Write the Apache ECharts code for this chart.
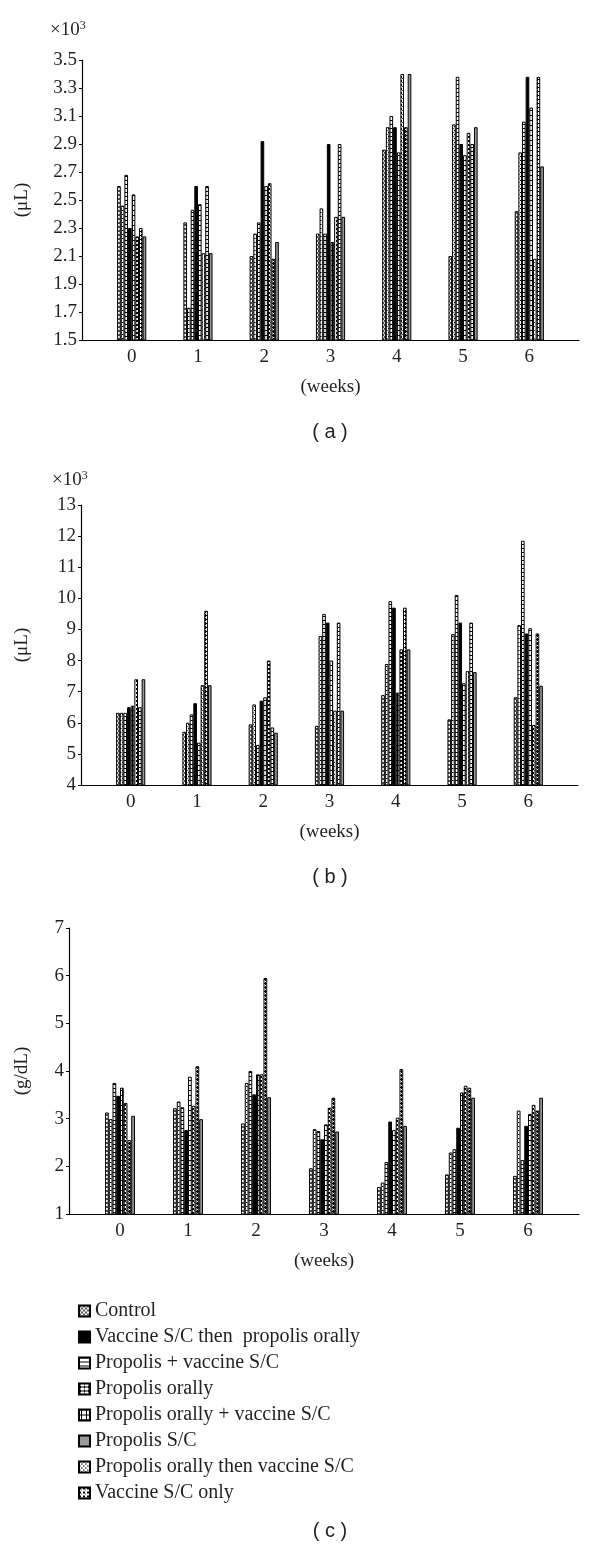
<!DOCTYPE html>
<html>
<head>
<meta charset="utf-8">
<script src="https://cdn.jsdelivr.net/npm/echarts@6/dist/echarts.min.js"></script>
<style>
  html, body { margin: 0; padding: 0; background: #fff; }
  #main { width: 600px; height: 1554px; }
</style>
</head>
<body>
<div id="main"></div>
<script>
// weeks shown on every x axis
var weeks = ['0', '1', '2', '3', '4', '5', '6']

// series in the order the bars stand inside each week
var names = [
  'Control',
  'Propolis orally then vaccine S/C',
  'Propolis + vaccine S/C',
  'Vaccine S/C then  propolis orally',
  'Propolis orally + vaccine S/C',
  'Vaccine S/C only',
  'Propolis orally',
  'Propolis S/C'
]
// legend order as printed under the charts
var legendOrder = [
  'Control',
  'Vaccine S/C then  propolis orally',
  'Propolis + vaccine S/C',
  'Propolis orally',
  'Propolis orally + vaccine S/C',
  'Propolis S/C',
  'Propolis orally then vaccine S/C',
  'Vaccine S/C only'
]

// (a) x10^3 / uL
var a1 = [2.60, 2.34, 2.10, 2.26, 2.86, 2.10, 2.42]
var a2 = [2.46, 1.73, 2.26, 2.44, 3.02, 3.04, 2.84]
var a3 = [2.68, 2.43, 2.34, 2.26, 3.10, 3.38, 3.06]
var a4 = [2.30, 2.60, 2.92, 2.90, 3.02, 2.90, 3.38]
var a5 = [2.54, 2.47, 2.60, 2.20, 2.84, 2.82, 3.16]
var a6 = [2.24, 2.12, 2.62, 2.38, 3.40, 2.98, 2.08]
var a7 = [2.30, 2.60, 2.08, 2.90, 3.02, 2.90, 3.38]
var a8 = [2.24, 2.12, 2.20, 2.38, 3.40, 3.02, 2.74]

// (b) x10^3 / uL
var b1 = [6.32, 5.71, 5.95, 5.90, 6.89, 6.11, 6.82]
var b2 = [6.32, 6.00, 6.59, 8.79, 7.89, 8.85, 9.14]
var b3 = [6.32, 6.27, 5.29, 9.50, 9.91, 10.11, 11.85]
var b4 = [6.50, 6.63, 6.71, 9.22, 9.70, 9.22, 8.87]
var b5 = [6.55, 5.36, 6.82, 8.00, 6.97, 7.27, 9.04]
var b6 = [7.40, 7.21, 8.00, 6.39, 8.36, 7.66, 5.93]
var b7 = [6.50, 9.60, 5.85, 9.22, 9.70, 9.22, 8.87]
var b8 = [7.40, 7.21, 5.68, 6.39, 8.36, 7.63, 7.19]

// (c) g/dL
var c1 = [3.13, 3.22, 2.90, 1.96, 1.57, 1.83, 1.80]
var c2 = [2.99, 3.36, 3.75, 2.78, 1.66, 2.29, 3.17]
var c3 = [3.75, 3.24, 4.00, 2.74, 2.09, 2.36, 2.13]
var c4 = [3.48, 2.76, 3.51, 2.57, 2.94, 2.81, 2.85]
var c5 = [3.65, 3.88, 3.93, 2.88, 2.76, 3.55, 3.10]
var c6 = [3.33, 3.27, 3.93, 3.23, 3.02, 3.69, 3.29]
var c7 = [2.55, 4.10, 5.95, 3.44, 4.04, 3.65, 3.17]
var c8 = [3.06, 2.99, 3.45, 2.73, 2.85, 3.44, 3.44]

var panelA = [a1, a2, a3, a4, a5, a6, a7, a8]
var panelB = [b1, b2, b3, b4, b5, b6, b7, b8]
var panelC = [c1, c2, c3, c4, c5, c6, c7, c8]

// the original axis has an empty slot before, between and after the weeks
var slots = ['']
weeks.forEach(function (w) { slots.push(w, '') })
function spread (arr) {
  var out = [null]
  arr.forEach(function (v) { out.push(v, null) })
  return out
}

// small hatch fills
function pattern (size, draw) {
  var c = document.createElement('canvas')
  c.width = size
  c.height = size
  var ctx = c.getContext('2d')
  ctx.fillStyle = '#fff'
  ctx.fillRect(0, 0, size, size)
  ctx.fillStyle = '#000'
  draw(ctx)
  return { image: c, repeat: 'repeat' }
}
var fills = [
  pattern(4, function (ctx) { ctx.fillStyle = '#555'; ctx.fillRect(0, 0, 2, 2); ctx.fillRect(2, 2, 2, 2) }),
  pattern(4, function (ctx) { ctx.fillRect(0, 0, 1, 1); ctx.fillRect(2, 2, 1, 1); ctx.fillStyle = '#777'; ctx.fillRect(1, 0, 1, 1); ctx.fillRect(3, 2, 1, 1) }),
  pattern(4, function (ctx) { ctx.fillRect(0, 0, 4, 1) }),
  '#000',
  pattern(5, function (ctx) { ctx.fillRect(0, 0, 5, 1); ctx.fillRect(2, 0, 1, 5) }),
  pattern(4, function (ctx) { ctx.fillRect(0, 0, 2, 2); ctx.fillStyle = '#444'; ctx.fillRect(2, 2, 1, 1) }),
  pattern(4, function (ctx) { ctx.fillRect(1, 0, 1, 1); ctx.fillRect(1, 2, 1, 1); ctx.fillRect(0, 3, 4, 1) }),
  '#999'
]

var serif = '"Liberation Serif", "DejaVu Serif", serif'
var ink = '#231f20'

var panels = [
  { data: panelA, min: 1.5, max: 3.5, step: 0.2, left: 82, right: 21, top: 60, height: 280, unit: '(\u03bcL)', gap: 50 },
  { data: panelB, min: 4, max: 13, step: 1, left: 81, right: 22, top: 505, height: 280, unit: '(\u03bcL)', gap: 49 },
  { data: panelC, min: 1, max: 7, step: 1, left: 69, right: 21, top: 928, height: 286, unit: '(g/dL)', gap: 37 }
]

var grids = []
var xAxes = []
var yAxes = []
var series = []
panels.forEach(function (p, i) {
  grids.push({ left: p.left, right: p.right, top: p.top, height: p.height })
  xAxes.push({
    type: 'category',
    gridIndex: i,
    data: slots,
    name: '(weeks)',
    nameLocation: 'middle',
    nameGap: 38,
    nameTextStyle: { fontFamily: serif, fontSize: 19, color: ink },
    axisLine: { lineStyle: { color: '#000', width: 1.2 } },
    axisTick: { interval: 0, length: 4, lineStyle: { color: '#000' } },
    axisLabel: { interval: 0, margin: 8, fontFamily: serif, fontSize: 19, color: ink }
  })
  yAxes.push({
    type: 'value',
    gridIndex: i,
    min: p.min,
    max: p.max,
    interval: p.step,
    name: p.unit,
    nameLocation: 'middle',
    nameGap: p.gap,
    nameRotate: 90,
    nameTextStyle: { fontFamily: serif, fontSize: 19, color: ink },
    splitLine: { show: false },
    axisLine: { show: true, lineStyle: { color: '#000', width: 1.2 } },
    axisTick: { show: true, length: 3, lineStyle: { color: '#000' } },
    axisLabel: {
      margin: 5,
      fontFamily: serif,
      fontSize: 19,
      color: ink,
      formatter: function (v) { return p.step < 1 ? v.toFixed(1) : String(v) }
    }
  })
  p.data.forEach(function (arr, k) {
    series.push({
      name: names[k],
      type: 'bar',
      xAxisIndex: i,
      yAxisIndex: i,
      data: spread(arr),
      barGap: '0%',
      barCategoryGap: '12%',
      itemStyle: { color: fills[k], borderColor: '#000', borderWidth: 1 },
      animation: false
    })
  })
})

var myChart = echarts.init(document.getElementById('main'), null, { renderer: 'canvas' })
myChart.setOption({
  animation: false,
  grid: grids,
  xAxis: xAxes,
  yAxis: yAxes,
  legend: {
    data: legendOrder,
    orient: 'vertical',
    left: 73,
    top: 1296,
    itemWidth: 11,
    itemHeight: 11,
    itemGap: 6,
    icon: 'rect',
    selectedMode: false,
    textStyle: { fontFamily: serif, fontSize: 20, color: ink }
  },
  graphic: [
    { type: 'text', left: 50, top: 20, style: { text: '\u00d710{s|3}', fill: ink, font: '19px ' + serif, rich: { s: { fontSize: 12, verticalAlign: 'top', fontFamily: serif, fill: ink, padding: [0, 0, 8, 0] } } } },
    { type: 'text', left: 52, top: 470, style: { text: '\u00d710{s|3}', fill: ink, font: '19px ' + serif, rich: { s: { fontSize: 12, verticalAlign: 'top', fontFamily: serif, fill: ink, padding: [0, 0, 8, 0] } } } },
    { type: 'text', x: 330, y: 432, style: { text: '( a )', fill: ink, font: '20px "Liberation Sans", Arial, sans-serif', align: 'center', verticalAlign: 'middle' } },
    { type: 'text', x: 330, y: 877, style: { text: '( b )', fill: ink, font: '20px "Liberation Sans", Arial, sans-serif', align: 'center', verticalAlign: 'middle' } },
    { type: 'text', x: 330, y: 1531, style: { text: '( c )', fill: ink, font: '20px "Liberation Sans", Arial, sans-serif', align: 'center', verticalAlign: 'middle' } }
  ],
  series: series
})
</script>
</body>
</html>
